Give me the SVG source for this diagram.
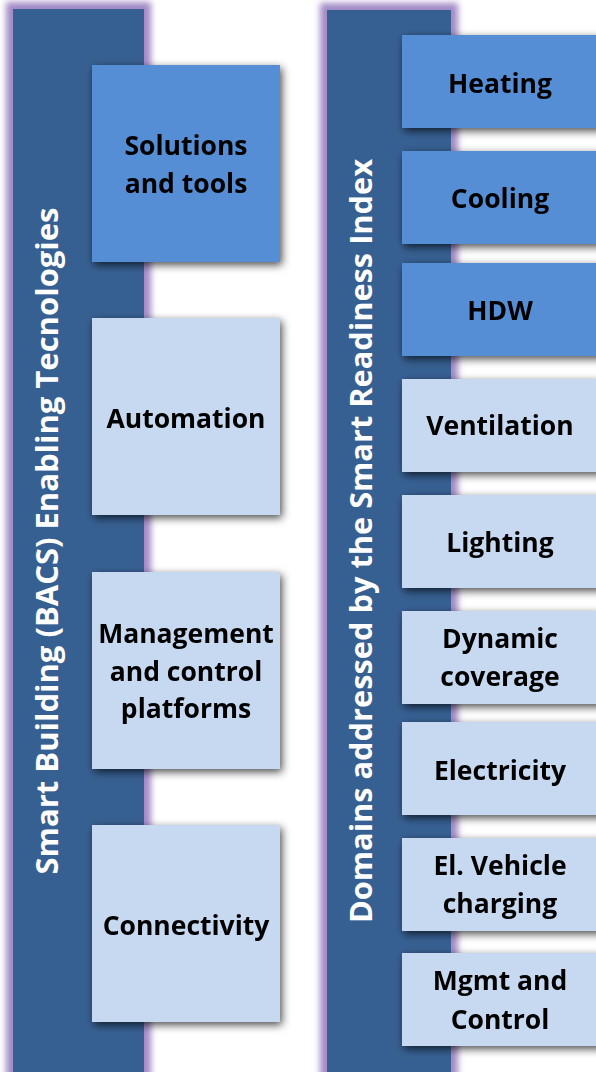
<svg xmlns="http://www.w3.org/2000/svg" width="596" height="1072" viewBox="0 0 596 1072">
  <defs>
    <filter id="glow" x="-20%" y="-5%" width="140%" height="110%">
      <feGaussianBlur stdDeviation="3"/>
    </filter>
    <filter id="shadow" x="-20%" y="-30%" width="140%" height="160%">
      <feDropShadow dx="2" dy="3" stdDeviation="4.5" flood-color="#000" flood-opacity="0.7"/>
    </filter>
    <style>
      .glow { fill: #a38ac6; filter: url(#glow); }
      .column { fill: #376092; }
      .title { font-family: "Open Sans", "Liberation Sans", sans-serif; font-weight: bold; font-size: 30px; fill: #ffffff; text-anchor: middle; }
      .box { filter: url(#shadow); }
      .dark { fill: #558ed5; }
      .light { fill: #c6d9f1; }
      .label { font-family: "Open Sans", "Liberation Sans", sans-serif; font-weight: bold; font-size: 26.5px; fill: #000000; text-anchor: middle; }
    </style>
  </defs>

  <rect width="596" height="1072" fill="#ffffff"/>

  <!-- Left column: enabling technologies -->
  <g id="col-bacs">
    <rect class="glow" x="6" y="2" width="145" height="1085"/>
    <rect class="column" x="13" y="9" width="131" height="1075"/>
    <text class="title" transform="translate(58,541) rotate(-90)" textLength="667" lengthAdjust="spacingAndGlyphs">Smart Building (BACS) Enabling Tecnologies</text>
  </g>

  <!-- Right column: SRI domains -->
  <g id="col-sri">
    <rect class="glow" x="320" y="3" width="138" height="1085"/>
    <rect class="column" x="327" y="10" width="124" height="1075"/>
    <text class="title" transform="translate(372,541) rotate(-90)" textLength="764" lengthAdjust="spacingAndGlyphs">Domains addressed by the Smart Readiness Index</text>
  </g>

  <!-- Left boxes -->
  <g id="solutions" class="box">
    <rect class="dark" x="92" y="65" width="188" height="197"/>
    <text class="label" x="186" y="155">Solutions</text>
    <text class="label" x="186" y="193">and tools</text>
  </g>
  <g id="automation" class="box">
    <rect class="light" x="92" y="318" width="188" height="197"/>
    <text class="label" x="186" y="428">Automation</text>
  </g>
  <g id="management" class="box">
    <rect class="light" x="92" y="572" width="188" height="197"/>
    <text class="label" x="186" y="643">Management</text>
    <text class="label" x="186" y="681">and control</text>
    <text class="label" x="186" y="718">platforms</text>
  </g>
  <g id="connectivity" class="box">
    <rect class="light" x="92" y="825" width="188" height="197"/>
    <text class="label" x="186" y="935">Connectivity</text>
  </g>

  <!-- Right boxes -->
  <g id="heating" class="box">
    <rect class="dark" x="402" y="35" width="200" height="93"/>
    <text class="label" x="500" y="93">Heating</text>
  </g>
  <g id="cooling" class="box">
    <rect class="dark" x="402" y="151" width="200" height="93"/>
    <text class="label" x="500" y="208">Cooling</text>
  </g>
  <g id="hdw" class="box">
    <rect class="dark" x="402" y="263" width="200" height="93"/>
    <text class="label" x="500" y="320">HDW</text>
  </g>
  <g id="ventilation" class="box">
    <rect class="light" x="402" y="379" width="200" height="93"/>
    <text class="label" x="500" y="435">Ventilation</text>
  </g>
  <g id="lighting" class="box">
    <rect class="light" x="402" y="495" width="200" height="93"/>
    <text class="label" x="500" y="552">Lighting</text>
  </g>
  <g id="dynamic-coverage" class="box">
    <rect class="light" x="402" y="611" width="200" height="93"/>
    <text class="label" x="500" y="648">Dynamic</text>
    <text class="label" x="500" y="686">coverage</text>
  </g>
  <g id="electricity" class="box">
    <rect class="light" x="402" y="722" width="200" height="93"/>
    <text class="label" x="500" y="780">Electricity</text>
  </g>
  <g id="ev-charging" class="box">
    <rect class="light" x="402" y="838" width="200" height="93"/>
    <text class="label" x="500" y="875">El. Vehicle</text>
    <text class="label" x="500" y="913">charging</text>
  </g>
  <g id="mgmt-control" class="box">
    <rect class="light" x="402" y="953" width="200" height="93"/>
    <text class="label" x="500" y="990">Mgmt and</text>
    <text class="label" x="500" y="1029">Control</text>
  </g>

  <!-- No connectors in this figure -->
  <g id="connectors"/>
</svg>
